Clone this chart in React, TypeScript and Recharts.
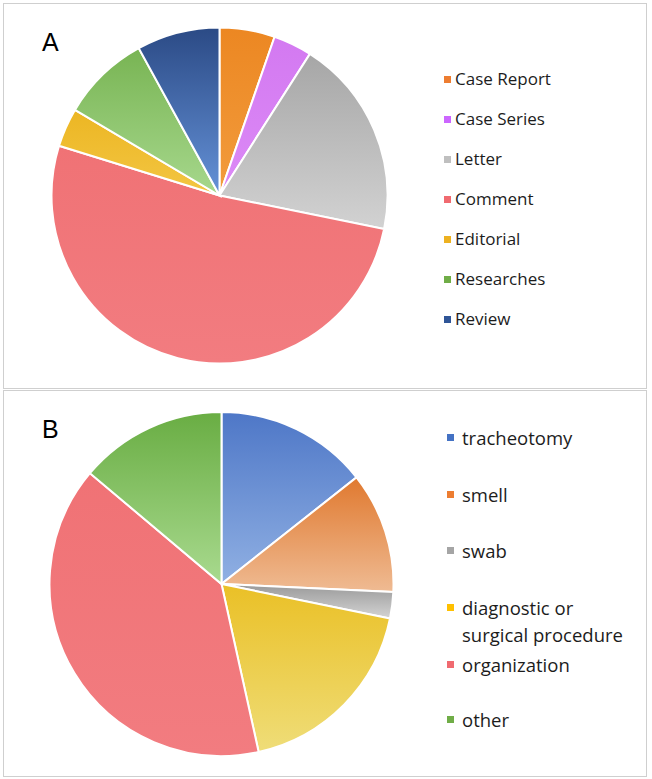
import React from "react";
import { PieChart, Pie, Cell } from "recharts";

const typesA = ["Case Report", "Case Series", "Letter", "Comment", "Editorial", "Researches", "Review"];
const valuesA = [10, 7, 36, 97, 7, 16, 15];
const topColorsA = ["#EC8722", "#D379F1", "#A6A6A6", "#F07275", "#ECB623", "#78B453", "#2B4A85"];
const bottomColorsA = ["#F29C3D", "#DC8AF6", "#D2D2D2", "#F27C80", "#F3C643", "#A7D88D", "#6592D8"];
const swatchA = ["#ED7D31", "#CC66FF", "#BFBFBF", "#F06A70", "#EDB120", "#70AD47", "#2F5597"];

const topicsB = ["tracheotomy", "smell", "swab", "diagnostic or\nsurgical procedure", "organization", "other"];
const valuesB = [29, 23, 5, 37, 80, 28];
const topColorsB = ["#4E77C7", "#E0792F", "#999999", "#EAC026", "#F07275", "#69AD43"];
const bottomColorsB = ["#90B0E3", "#EFBB93", "#D4D4D4", "#EFDD78", "#F27C80", "#A9DA8F"];
const swatchB = ["#4472C4", "#ED7D31", "#A5A5A5", "#FFC000", "#F06A70", "#70AD47"];

const legendRowsA = [75, 115, 155, 195, 235, 275, 315];
const legendRowsB = [46, 103, 159, 216, 273, 328];

const font = "'Open Sans', 'Liberation Sans', sans-serif";

function Panel(props: {
  top: number;
  height: number;
  label: string;
  names: string[];
  values: number[];
  tops: string[];
  bottoms: string[];
  swatches: string[];
  rows: number[];
  cx: number;
  cy: number;
  r: number;
  prefix: string;
  legendX: number;
  labelY: number;
  fontSize: number;
  lineH: number;
  gap: number;
}) {
  const data = props.names.map((n, i) => ({ name: n, value: props.values[i] }));
  return (
    <div
      style={{
        position: "absolute",
        left: 3,
        top: props.top,
        width: 644,
        height: props.height,
        border: "1px solid #cfcfcf",
        boxSizing: "border-box",
        background: "#fff",
      }}
    >
      <div
        style={{
          position: "absolute",
          left: 38,
          top: props.labelY,
          fontFamily: "'Liberation Sans', Arial, sans-serif",
          fontSize: 25,
          color: "#000",
          lineHeight: "25px",
        }}
      >
        {props.label}
      </div>
      <div style={{ position: "absolute", left: 0, top: 0 }}>
        <PieChart width={420} height={props.height - 2} margin={{ top: 0, left: 0, right: 0, bottom: 0 }}>
          <defs>
            {props.tops.map((c, i) => (
              <linearGradient key={i} id={`${props.prefix}${i}`} x1="0" y1="0" x2="0" y2="1">
                <stop offset="0%" stopColor={c} />
                <stop offset="100%" stopColor={props.bottoms[i]} />
              </linearGradient>
            ))}
          </defs>
          <Pie
            data={data}
            dataKey="value"
            nameKey="name"
            cx={props.cx}
            cy={props.cy}
            outerRadius={props.r}
            startAngle={90}
            endAngle={-270}
            stroke="#ffffff"
            strokeWidth={2}
            isAnimationActive={false}
          >
            {data.map((d, i) => (
              <Cell key={i} fill={`url(#${props.prefix}${i})`} />
            ))}
          </Pie>
        </PieChart>
      </div>
      {props.names.map((n, i) => {
        const lines = n.split("\n");
        return (
          <div
            key={i}
            style={{
              position: "absolute",
              left: props.legendX,
              top: props.rows[i] - props.lineH / 2,
              fontFamily: font,
              fontSize: props.fontSize,
              lineHeight: `${props.lineH}px`,
              color: "#1c1c1c",
            }}
          >
            {lines.map((l, j) => (
              <div key={j} style={{ position: "relative", whiteSpace: "nowrap", paddingLeft: props.gap }}>
                {j === 0 && (
                  <span
                    style={{
                      position: "absolute",
                      left: 0,
                      top: props.lineH / 2 - 3,
                      width: 7,
                      height: 7,
                      background: props.swatches[i],
                    }}
                  />
                )}
                {l}
              </div>
            ))}
          </div>
        );
      })}
    </div>
  );
}

export default function App() {
  return (
    <div style={{ position: "absolute", left: 0, top: 0, width: 652, height: 779, background: "#fff" }}>
      <Panel
        top={3}
        height={386}
        label="A"
        names={typesA}
        values={valuesA}
        tops={topColorsA}
        bottoms={bottomColorsA}
        swatches={swatchA}
        rows={legendRowsA}
        cx={215.5}
        cy={191.5}
        r={168}
        prefix="ga"
        legendX={440}
        labelY={26}
        fontSize={17}
        lineH={26}
        gap={11}
      />
      <Panel
        top={390}
        height={387}
        label="B"
        names={topicsB}
        values={valuesB}
        tops={topColorsB}
        bottoms={bottomColorsB}
        swatches={swatchB}
        rows={legendRowsB}
        cx={217.5}
        cy={193}
        r={172}
        prefix="gb"
        legendX={443}
        labelY={26}
        fontSize={18.5}
        lineH={27}
        gap={15}
      />
    </div>
  );
}
